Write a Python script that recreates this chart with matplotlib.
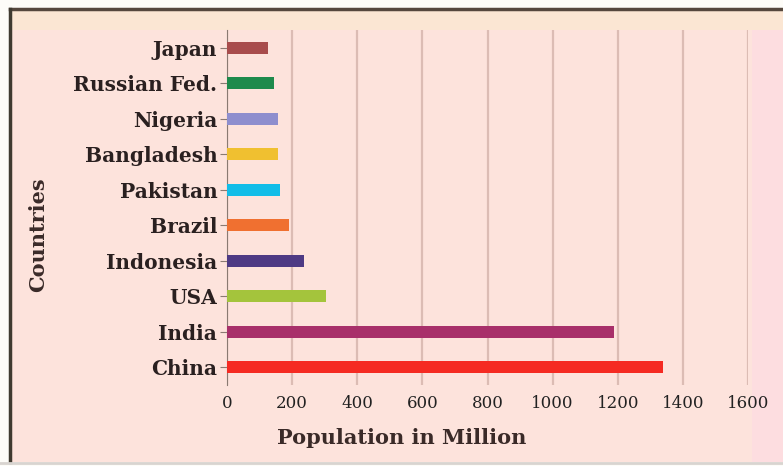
import matplotlib
matplotlib.use("Agg")
import matplotlib.pyplot as plt
from matplotlib.patches import Rectangle
from matplotlib.lines import Line2D

# Population by country (millions)
countries = ["China", "India", "USA", "Indonesia", "Brazil",
             "Pakistan", "Bangladesh", "Nigeria", "Russian Fed.", "Japan"]
population = [1340, 1190, 305, 237, 190, 163, 157, 158, 143, 127]
bar_colors = ["#f52a22", "#a8306a", "#a4c43c", "#4e3a84", "#f07030",
              "#12bde8", "#f0c030", "#8e8ece", "#1e8a4c", "#a84c4c"]
x_ticks = [0, 200, 400, 600, 800, 1000, 1200, 1400, 1600]

BG = "#fde3dc"
W, H = 783, 466
fig = plt.figure(figsize=(W / 100, H / 100), dpi=100, facecolor="#fdfcf8")

# panel background, frame and header strip (kept behind the axes)
fig.patches.append(Rectangle((10 / W, 4 / H), 1 - 10 / W, (H - 13) / H,
                             transform=fig.transFigure, facecolor=BG,
                             edgecolor="none", zorder=-5))
fig.patches.append(Rectangle((752 / W, 4 / H), 1 - 752 / W, (H - 13) / H,
                             transform=fig.transFigure, facecolor="#fddde0",
                             edgecolor="none", zorder=-4))
fig.patches.append(Rectangle((10 / W, (H - 30) / H), 1 - 10 / W, 20 / H,
                             transform=fig.transFigure, facecolor="#fbe6d3",
                             edgecolor="none", zorder=-4))
fig.lines.append(Line2D([10 / W, 1], [(H - 9) / H] * 2, transform=fig.transFigure,
                        color="#55473d", lw=2.5, zorder=-3))
fig.lines.append(Line2D([10 / W] * 2, [4 / H, (H - 9) / H], transform=fig.transFigure,
                        color="#3f3a30", lw=2.5, zorder=-3))
fig.lines.append(Line2D([0, 1], [3 / H] * 2, transform=fig.transFigure,
                        color="#d8d4d0", lw=2, zorder=-3))

ax = fig.add_axes([227 / W, (H - 385) / H, (748 - 227) / W, (385 - 30) / H])
ax.set_facecolor(BG)

ypos = list(range(len(countries)))
ax.barh(ypos, population, height=0.34, color=bar_colors, zorder=3)

ax.set_xlim(0, 1600)
ax.set_ylim(-0.5, len(countries) - 0.5)
ax.set_xticks(x_ticks)
ax.set_xticklabels([str(t) for t in x_ticks], fontsize=12,
                   family="DejaVu Serif", color="#222222")
ax.set_yticks(ypos)
ax.set_yticklabels(countries, fontsize=14.5, family="DejaVu Serif",
                   fontweight="bold", color="#2a2020")
ax.tick_params(axis="x", length=0, pad=7)
ax.tick_params(axis="y", length=5, color="#8a7a72", pad=2)
ax.grid(axis="x", color="#dcbcb4", lw=1.6, zorder=1)
for side in ("top", "right", "bottom"):
    ax.spines[side].set_visible(False)
ax.spines["left"].set_color("#8a7a72")

fig.text(402 / W, 1 - 438 / H, "Population in Million", ha="center", va="center",
         fontsize=15, family="DejaVu Serif", fontweight="bold", color="#3a2a28")
fig.text(38 / W, 1 - 235 / H, "Countries", ha="center", va="center", rotation=90,
         fontsize=15, family="DejaVu Serif", fontweight="bold", color="#3a2a28")

fig.savefig("out.png", dpi=100, facecolor=fig.get_facecolor())
